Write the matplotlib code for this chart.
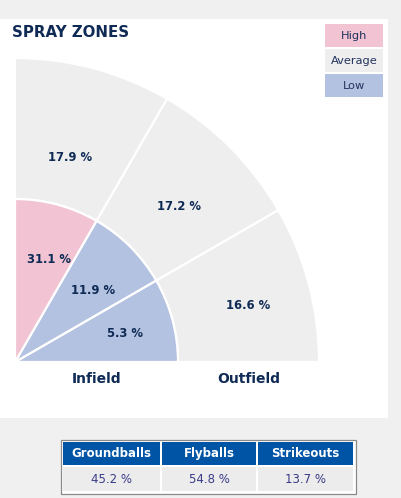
import matplotlib
matplotlib.use("Agg")
import matplotlib.pyplot as plt
from matplotlib.patches import Wedge, Rectangle
import numpy as np

# ---------------- data ----------------
title = "SPRAY ZONES"
legend_levels = ["High", "Average", "Low"]
field_names = ["Infield", "Outfield"]
# zones ordered from the right-field line (0 deg) up to the left-field line (90 deg)
infield_values = [5.3, 11.9, 31.1]
infield_levels = ["Low", "Low", "High"]
outfield_values = [16.6, 17.2, 17.9]
outfield_levels = ["Average", "Average", "Average"]
table_headers = ["Groundballs", "Flyballs", "Strikeouts"]
table_values = [45.2, 54.8, 13.7]

# ---------------- style / layout ----------------
W, H = 401, 498
level_colors = {"High": "#f2c4d3", "Average": "#eeeeee", "Low": "#b4c2e1"}
navy = "#0f2b55"
page_bg = "#f0f0f0"

fig = plt.figure(figsize=(W / 100, H / 100), dpi=100)
fig.patch.set_facecolor(page_bg)
ax = fig.add_axes([0, 0, 1, 1])
ax.set_xlim(0, W)
ax.set_ylim(H, 0)
ax.axis("off")

# white panel
ax.add_patch(Rectangle((0, 19), 388, 399, facecolor="white", edgecolor="none", zorder=0))

ax.text(12, 32, title, fontsize=10.8, fontweight="bold", color=navy,
        ha="left", va="center", family="DejaVu Sans")

# legend
for i, lev in enumerate(legend_levels):
    y0 = 24 + i * 25
    ax.add_patch(Rectangle((325, y0), 58, 23, facecolor=level_colors[lev], edgecolor="none", zorder=1))
    ax.text(354, y0 + 11.5, lev, fontsize=8.2, color="#22335d", ha="center", va="center", zorder=2)

# fan (y axis inverted -> angles measured downward, so use negative thetas)
cx, cy = 15, 362
r_in, r_out = 163, 304
n = len(infield_values)
step = 90 / n
# layout: label (radius, angle) per zone
in_label_pos = [(114, 14.6), (106, 42.5), (108, 71.5)]
out_label_pos = [(240, 13.5), (226, 43.4), (212, 75.0)]

for i in range(n):
    a0, a1 = i * step, (i + 1) * step
    ax.add_patch(Wedge((cx, cy), r_out, -a1, -a0, width=r_out - r_in,
                       facecolor=level_colors[outfield_levels[i]], edgecolor="white",
                       linewidth=1.6, zorder=2))
    ax.add_patch(Wedge((cx, cy), r_in, -a1, -a0,
                       facecolor=level_colors[infield_levels[i]], edgecolor="white",
                       linewidth=1.6, zorder=3))

for vals, pos in ((infield_values, in_label_pos), (outfield_values, out_label_pos)):
    for v, (r, ang) in zip(vals, pos):
        t = np.deg2rad(ang)
        ax.text(cx + r * np.cos(t), cy - r * np.sin(t), f"{v:.1f} %",
                fontsize=8.4, fontweight="bold", color=navy, ha="center", va="center", zorder=5)

ax.text(cx + r_in * 0.5, 379, field_names[0], fontsize=10, fontweight="bold",
        color=navy, ha="center", va="center")
ax.text(cx + (r_in + r_out) / 2, 379, field_names[1], fontsize=10, fontweight="bold",
        color=navy, ha="center", va="center")

# table
ax.add_patch(Rectangle((60.5, 439.5), 295, 54, facecolor="white", edgecolor="#8a8a8a",
                       linewidth=0.9, zorder=1))
col_x = [63, 162, 258]
col_w = [97, 94, 95]
for x0, w, hdr, val in zip(col_x, col_w, table_headers, table_values):
    ax.add_patch(Rectangle((x0, 442), w, 23, facecolor="#0054a6", edgecolor="none", zorder=2))
    ax.add_patch(Rectangle((x0, 467), w, 24, facecolor="#ececec", edgecolor="none", zorder=2))
    ax.text(x0 + w / 2, 453.5, hdr, fontsize=8.5, fontweight="bold", color="white",
            ha="center", va="center", zorder=3)
    ax.text(x0 + w / 2, 479, f"{val:.1f} %", fontsize=8.5, color="#3a3a88",
            ha="center", va="center", zorder=3)

fig.savefig("out.png", dpi=100, facecolor=page_bg)
